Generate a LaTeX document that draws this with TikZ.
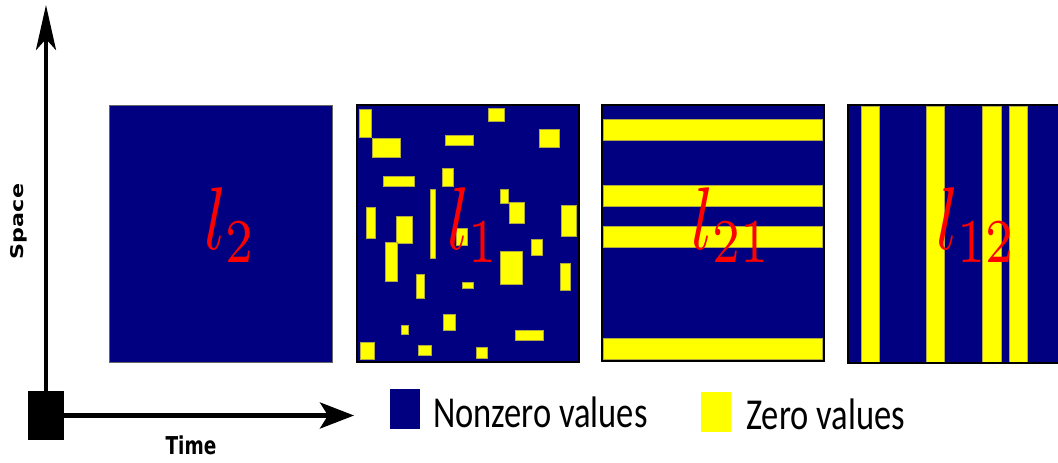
\documentclass[tikz,border=0pt]{standalone}
\usepackage{fontspec}
\usepackage{graphicx}
\usetikzlibrary{arrows.meta}
\newfontfamily\axisfont{DejaVu Sans}
\newfontfamily\legfont{Carlito}
\definecolor{navyfill}{RGB}{0,0,128}
\definecolor{zeroyellow}{RGB}{255,255,0}
\tikzset{
  panelbg/.style={fill=navyfill},
  panelframe/.style={draw=black, line width=1.6pt},
  zerobox/.style={fill=zeroyellow, draw=yellow!65!black, line width=0.4pt},
  normlabel/.style={anchor=base west, inner sep=0pt, text=red, xscale=7, yscale=8.9},
  axisarrow/.style={line width=4.6pt},
  legtext/.style={anchor=base west, inner sep=0pt, font=\legfont\fontsize{34.5}{40}\selectfont},
  legswatch/.style={minimum width=30pt, minimum height=40pt, inner sep=0pt},
}
\begin{document}
\begin{tikzpicture}[x=1pt, y=-1pt]
\useasboundingbox (0,0) rectangle (1058,463);

% ---------- axes ----------
\node[fill=black, minimum width=36pt, minimum height=49pt, inner sep=0pt] (orig) at (46,415.5) {};
\coordinate (spacetip) at (46,5);
\coordinate (timetip) at (354,415.5);
\draw[axisarrow, -{Stealth[length=45pt, width=20pt, inset=11pt]}] (orig.north) -- (spacetip);
\draw[axisarrow, -{Stealth[length=34pt, width=26pt, inset=8pt]}] (orig.east) -- (timetip);
\node[inner sep=0pt, font=\axisfont\bfseries\fontsize{17.5}{20}\selectfont] (space) at (18.5,221.5)
  {\rotatebox{90}{\scalebox{1.27}[1]{Space}}};
\node[anchor=base, inner sep=0pt, font=\axisfont\bfseries\fontsize{18.5}{22}\selectfont] (time) at (191,454)
  {\scalebox{1}[1.33]{Time}};

% ---------- panel 1 : l2 ----------
\fill[panelbg] (109,105) rectangle (332,362);
\draw[draw=black!60, line width=1pt] (109,105) rectangle (332,362);
\node[normlabel] (l2) at (203,249) {$l_2$};

% ---------- panel 2 : l1 ----------
\fill[panelbg] (357,105) rectangle (579,362);
\foreach \xa/\xb/\ya/\yb in {
  359/371/109/137, 372/400/138/157, 488/504/108/121, 445/473/135/145,
  539/559/129/147, 383/414/176/186, 442/453/168/186, 430/435/189/258,
  500/508/189/203, 509/524/202/223, 561/576/205/236, 366/375/207/238,
  396/412/216/243, 385/397/242/281, 456/467/228/245, 531/542/239/255,
  500/522/251/284, 560/570/263/290, 416/424/274/298, 462/473/282/288,
  443/455/314/330, 401/408/325/334, 515/543/330/340, 360/374/342/359,
  418/431/345/355, 476/487/347/358}
  \filldraw[zerobox] (\xa,\ya) rectangle (\xb,\yb);
\draw[panelframe] (357,105) rectangle (579,362);
\node[normlabel] (l1) at (446,249) {$l_1$};

% ---------- panel 3 : l21 ----------
\fill[panelbg] (602,105) rectangle (824,361);
\foreach \ya/\yb in {119/140, 185/206, 226/247, 338/359}
  \filldraw[zerobox] (603.5,\ya) rectangle (822.5,\yb);
\draw[panelframe] (602,105) rectangle (824,361);
\node[normlabel] (l21) at (690,249) {$l_{21}$};

% ---------- panel 4 : l12 ----------
\fill[panelbg] (848,105) rectangle (1062,363);
\foreach \xa/\xb in {861/879, 926/944, 982/1001, 1009/1027}
  \filldraw[zerobox] (\xa,106) rectangle (\xb,362);
\draw[panelframe] (1062,105) -- (848,105) -- (848,363) -- (1062,363);
\node[normlabel] (l12) at (935,249) {$l_{12}$};

% ---------- legend ----------
\node[legswatch, fill=navyfill] (legnz) at (405,409) {};
\node[legtext] (legnztext) at (433,427) {\scalebox{1}[1.28]{Nonzero values}};
\node[legswatch, fill=zeroyellow] (legz) at (716,412) {};
\node[legtext] (legztext) at (746,429) {\scalebox{1}[1.28]{Zero values}};
\end{tikzpicture}
\end{document}
